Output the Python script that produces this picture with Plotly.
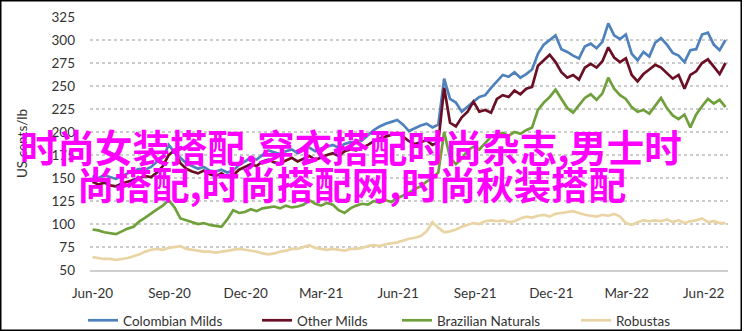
import pandas as pd
import plotly.graph_objects as go

# ---------------- data (weekly readings, US cents/lb) ----------------
start_date = "2020-06-01"
n_weeks = 109
dates = pd.date_range(start_date, periods=n_weeks, freq="7D")

colombian_milds = [
    152, 150, 153, 151, 149, 152, 155, 158, 160, 159,
    162, 168, 172, 186, 178, 172, 166, 163, 160, 162,
    158, 157, 159, 156, 158, 164, 168, 172, 170, 175,
    180, 178, 176, 179, 181, 177, 180, 183, 179, 182,
    184, 186, 183, 187, 189, 188, 191, 197, 202, 206,
    209, 211, 213, 208, 201, 204, 207, 209, 205, 208,
    258, 236, 232, 222, 228, 233, 238, 240, 248, 255,
    262, 260, 265, 259, 263, 268, 285, 295, 300, 305,
    290, 287, 283, 280, 293, 296, 291, 298, 318, 305,
    301, 306, 285, 278, 287, 282, 297, 302, 295, 286,
    283, 276, 289, 290, 306, 308, 295, 289, 300,
]
other_milds = [
    146, 143, 145, 142, 141, 144, 146, 148, 150, 152,
    151, 156, 163, 175, 180, 166, 160, 157, 155, 158,
    154, 152, 155, 151, 153, 159, 162, 165, 163, 168,
    170, 167, 166, 169, 172, 168, 171, 174, 170, 172,
    175, 177, 174, 179, 181, 180, 183, 186, 190, 193,
    195, 197, 199, 195, 190, 187, 189, 191, 186, 189,
    248, 210, 206, 216, 222, 233, 222, 224, 221, 236,
    240, 238, 245, 241, 247, 249, 272, 278, 284, 276,
    265, 259, 262, 257, 270, 274, 270, 277, 292, 281,
    276, 280, 262, 255, 263, 268, 273, 270, 264, 258,
    262, 247, 262, 266, 275, 279, 271, 263, 275,
]
brazilian_naturals = [
    94, 93, 91, 90, 89, 92, 95, 97, 103, 107,
    112, 116, 120, 126, 118, 106, 104, 102, 100, 101,
    99, 98, 97, 105, 115, 112, 113, 116, 114, 117,
    118, 119, 117, 120, 118, 119, 121, 126, 122, 120,
    123, 121, 115, 112, 117, 120, 122, 121, 125, 123,
    126, 124, 128, 131, 134, 138, 141, 146, 150, 156,
    200, 172, 165, 171, 180, 184, 181, 188, 195, 197,
    199, 196, 200, 198, 202, 205, 224, 232, 238, 246,
    236, 226, 221, 229, 237, 241, 235, 242, 259, 247,
    240, 236, 227, 222, 224, 220, 229, 237, 226, 218,
    214, 219, 205, 219, 228, 236, 231, 235, 227,
]
robustas = [
    64, 63, 62, 62, 61, 62, 63, 65, 67, 70,
    72, 73, 72, 74, 75, 76, 73, 72, 71, 70,
    70, 69, 70, 71, 72, 73, 72, 71, 70, 68,
    67, 68, 70, 71, 73, 73, 75, 77, 74, 73,
    72, 73, 72, 71, 73, 73, 74, 76, 77, 76,
    78, 79, 80, 82, 84, 85, 87, 92, 102, 96,
    91, 92, 94, 97, 99, 101, 100, 103, 104, 103,
    104, 102, 103, 106, 108, 107, 109, 110, 108, 111,
    112, 113, 114, 112, 110, 109, 108, 110, 109, 111,
    108, 101, 99, 102, 104, 103, 104, 103, 105, 102,
    104, 101, 103, 104, 106, 102, 103, 101, 101,
]

series_names = ["Colombian Milds", "Other Milds", "Brazilian Naturals", "Robustas"]
series_values = [colombian_milds, other_milds, brazilian_naturals, robustas]

x_ticks = ["2020-06-01", "2020-09-01", "2020-12-01", "2021-03-01", "2021-06-01",
           "2021-09-01", "2021-12-01", "2022-03-01", "2022-06-01"]
x_tick_labels = ["Jun-20", "Sep-20", "Dec-20", "Mar-21", "Jun-21",
                 "Sep-21", "Dec-21", "Mar-22", "Jun-22"]
y_ticks = [50, 75, 100, 125, 150, 175, 200, 225, 250, 275, 300, 325]

overlay_lines = ["时尚女装搭配,穿衣搭配时尚杂志,男士时", "尚搭配,时尚搭配网,时尚秋装搭配"]

# ---------------- styling ----------------
W, H = 744, 331
ML, MR, MT, MB = 90, 16, 17, 61
PW, PH = W - ML - MR, H - MT - MB

colors = ["#4F81BD", "#6B0F24", "#70A03C", "#E9D4A4"]
legend_widths = [129, 95, 134, 80]
font_family = "Lato, 'Open Sans', sans-serif"
text_color = "#333333"


def px_to_paper_x(px):
    return (px - ML) / PW


def px_to_paper_y(py):
    return (H - MB - py) / PH


fig = go.Figure()
for name, vals, col, lw in zip(series_names, series_values, colors, legend_widths):
    fig.add_trace(go.Scatter(
        x=dates, y=vals, name=name, mode="lines",
        line=dict(color=col, width=2.7),
        legendwidth=lw,
    ))

fig.update_layout(
    width=W, height=H,
    margin=dict(l=ML, r=MR, t=MT, b=MB, pad=0, autoexpand=False),
    paper_bgcolor="white", plot_bgcolor="white",
    font=dict(family=font_family, size=13.5, color=text_color),
    showlegend=True,
    legend=dict(
        orientation="h", xref="container", yref="container",
        x=83 / W, xanchor="left", y=1 - 320.5 / H, yanchor="middle",
        itemwidth=30, font=dict(size=13.5, color=text_color),
        bgcolor="rgba(0,0,0,0)",
    ),
    xaxis=dict(
        range=["2020-05-29", "2022-06-30"],
        tickmode="array", tickvals=x_ticks, ticktext=x_tick_labels,
        showgrid=False, showline=True, linecolor="#CFCFCF", linewidth=1.5,
        ticks="", ticklabelstandoff=10, zeroline=False,
    ),
    yaxis=dict(
        range=[50, 325], tickmode="array", tickvals=y_ticks,
        showgrid=True, gridcolor="#CCCCCC", griddash="dot", gridwidth=1.5,
        showline=False, zeroline=False, ticks="", ticklabelstandoff=14,
        title=dict(text="US cents/lb", standoff=20, font=dict(size=13.5, color=text_color)),
    ),
)

overlay_centers = [(351, 145), (351, 182)]
for txt, (cx, cy) in zip(overlay_lines, overlay_centers):
    fig.add_annotation(
        text=txt, xref="paper", yref="paper",
        x=px_to_paper_x(cx), y=px_to_paper_y(cy),
        xanchor="center", yanchor="middle", showarrow=False,
        font=dict(family="'Noto Sans CJK SC', sans-serif", size=37.5, color="#FF00FF", weight=700),
    )

# outer frame
fig.add_shape(
    type="rect", xref="paper", yref="paper",
    x0=px_to_paper_x(0.75), x1=px_to_paper_x(741.25),
    y0=px_to_paper_y(330.25), y1=px_to_paper_y(0.75),
    line=dict(color="black", width=1.5), fillcolor="rgba(0,0,0,0)", layer="above",
)

fig.write_html("out.html")
